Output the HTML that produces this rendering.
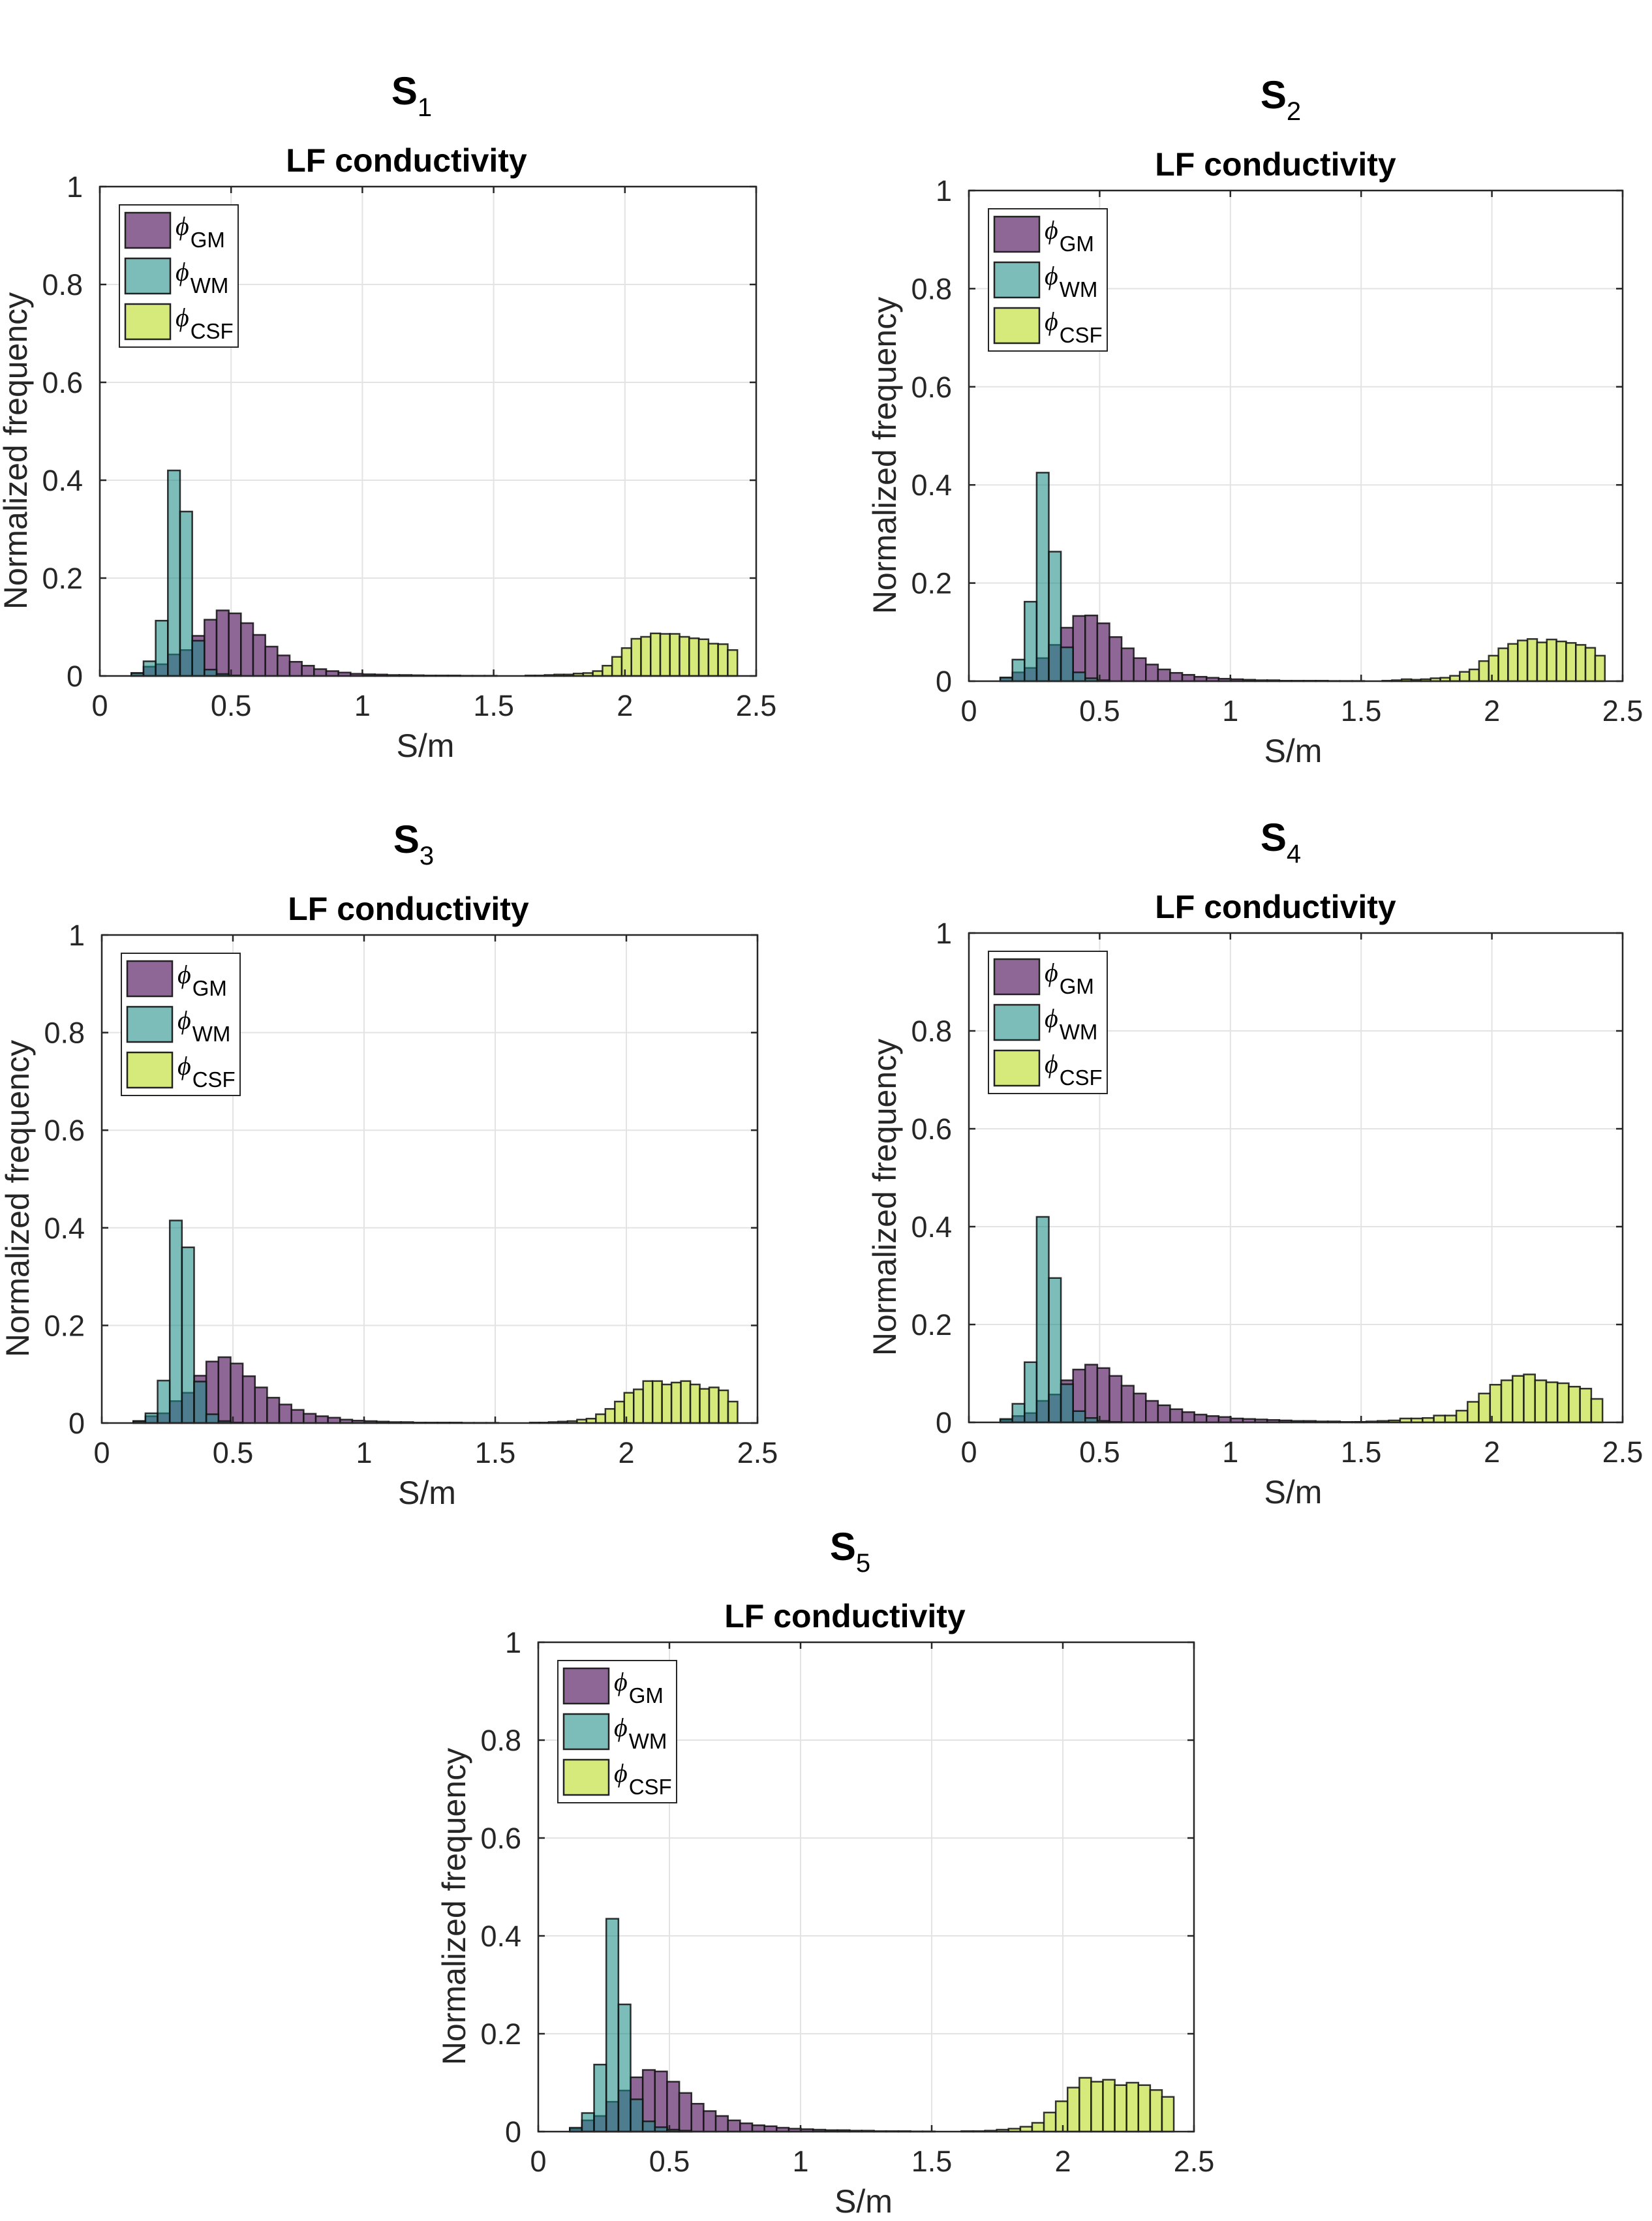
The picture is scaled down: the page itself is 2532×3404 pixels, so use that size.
<!DOCTYPE html>
<html><head><meta charset="utf-8"><style>
html,body{margin:0;padding:0;background:#fff;}
svg{display:block;font-family:"Liberation Sans",Arial,sans-serif;}
</style></head><body>
<svg id="fig" xmlns="http://www.w3.org/2000/svg" width="2532" height="3404" viewBox="0 0 2532 3404"></svg>
<script>
// shared axis data
const xTicks = [0, 0.5, 1, 1.5, 2, 2.5];
const xTickLabels = ['0', '0.5', '1', '1.5', '2', '2.5'];
const yTicks = [0, 0.2, 0.4, 0.6, 0.8, 1];
const yTickLabels = ['0', '0.2', '0.4', '0.6', '0.8', '1'];
const tissueBinStart = 0.12;
const tissueBinWidth = 0.0464;

// S1
const s1WM = [0.006,0.03,0.113,0.42,0.336,0.072,0.013,0.004,0.001];
const s1GM = [0.006,0.019,0.024,0.044,0.053,0.082,0.115,0.134,0.128,0.108,0.084,0.06,0.042,0.029,0.021,0.014,0.01,0.007,0.0045,0.0035,0.003,0.002,0.002,0.0015,0.001,0.001,0.001,0.0005,0.0005,0.0005];
const s1CSF = [0.001,0.001,0.002,0.003,0.003,0.005,0.006,0.01,0.021,0.039,0.057,0.076,0.08,0.087,0.086,0.086,0.08,0.077,0.075,0.066,0.065,0.053];
const s1CSFEdge = [1.621, 0.0367];
// S2
const s2WM = [0.0075,0.044,0.162,0.425,0.264,0.069,0.018,0.006,0.002];
const s2GM = [0.007,0.018,0.027,0.047,0.074,0.109,0.133,0.134,0.118,0.09,0.067,0.047,0.034,0.024,0.017,0.013,0.009,0.007,0.005,0.004,0.003,0.002,0.002,0.001,0.001,0.001,0.001,0.0005,0.0005,0.0005];
const s2CSF = [0.001,0.002,0.004,0.003,0.004,0.006,0.007,0.011,0.019,0.024,0.041,0.052,0.067,0.076,0.083,0.086,0.079,0.085,0.081,0.078,0.074,0.068,0.052];
const s2CSFEdge = [1.581, 0.037];
// S3
const s3WM = [0.004,0.02,0.087,0.415,0.36,0.085,0.018,0.004,0.001];
const s3GM = [0.004,0.014,0.02,0.045,0.062,0.097,0.126,0.135,0.122,0.096,0.073,0.052,0.038,0.027,0.019,0.014,0.011,0.007,0.005,0.004,0.003,0.002,0.002,0.001,0.001,0.001,0.001,0.0005,0.0005,0.0005];
const s3CSF = [0.001,0.001,0.002,0.003,0.004,0.007,0.009,0.018,0.029,0.044,0.062,0.069,0.086,0.086,0.079,0.083,0.086,0.079,0.070,0.073,0.067,0.044];
const s3CSFEdge = [1.632, 0.036];
// S4
const s4WM = [0.007,0.038,0.123,0.42,0.295,0.078,0.023,0.009,0.003,0.001];
const s4GM = [0.005,0.013,0.019,0.044,0.057,0.086,0.108,0.118,0.111,0.095,0.075,0.059,0.044,0.035,0.027,0.021,0.016,0.013,0.011,0.008,0.007,0.006,0.005,0.004,0.003,0.003,0.002,0.002,0.001,0.001];
const s4CSF = [0.001,0.002,0.003,0.004,0.008,0.008,0.009,0.014,0.014,0.024,0.042,0.059,0.077,0.086,0.095,0.098,0.086,0.082,0.080,0.073,0.069,0.048];
const s4CSFEdge = [1.477, 0.043];
// S5
const s5WM = [0.008,0.038,0.137,0.435,0.26,0.066,0.021,0.009,0.004,0.002];
const s5GM = [0.006,0.023,0.032,0.061,0.084,0.111,0.126,0.123,0.102,0.079,0.057,0.042,0.032,0.023,0.017,0.013,0.011,0.008,0.006,0.005,0.004,0.003,0.003,0.002,0.002,0.001,0.001,0.001,0.0005,0.0005];
const s5CSF = [0.001,0.001,0.002,0.004,0.006,0.010,0.018,0.039,0.062,0.090,0.110,0.102,0.106,0.095,0.100,0.095,0.085,0.071];
const s5CSFEdge = [1.613, 0.045];

const subjects = [
  {n:'1', wm:s1WM, gm:s1GM, csf:s1CSF, ce:s1CSFEdge, box:[153,1159,286,1036]},
  {n:'2', wm:s2WM, gm:s2GM, csf:s2CSF, ce:s2CSFEdge, box:[1485,2487,292,1044]},
  {n:'3', wm:s3WM, gm:s3GM, csf:s3CSF, ce:s3CSFEdge, box:[156,1161,1433,2181]},
  {n:'4', wm:s4WM, gm:s4GM, csf:s4CSF, ce:s4CSFEdge, box:[1485,2487,1430,2180]},
  {n:'5', wm:s5WM, gm:s5GM, csf:s5CSF, ce:s5CSFEdge, box:[825,1830,2517,3267]}
];

const NS = 'http://www.w3.org/2000/svg';
const fig = document.getElementById('fig');
function mk(tag, attrs, parent) {
  const e = document.createElementNS(NS, tag);
  for (const k in attrs) e.setAttribute(k, attrs[k]);
  parent.appendChild(e);
  return e;
}

subjects.forEach(s => {
  const [L, R, T, B] = s.box;
  const xs = v => L + v / 2.5 * (R - L);
  const ys = v => B - v * (B - T);
  const g = mk('g', {}, fig);
  
  

  xTicks.forEach(t => {
    const l = mk('line', {x1: xs(t), x2: xs(t), y1: T, y2: B, stroke: '#e3e3e3', 'stroke-width': 2}, g);
    
    
  });
  yTicks.forEach(t => {
    const l = mk('line', {x1: L, x2: R, y1: ys(t), y2: ys(t), stroke: '#e3e3e3', 'stroke-width': 2}, g);
    
    
  });

  function bars(vals, start, w, fill, op, name) {
    vals.forEach((v, i) => {
      const x0 = xs(start + i * w), x1 = xs(start + (i + 1) * w);
      const r = mk('rect', {x: x0, y: ys(v), width: x1 - x0, height: ys(0) - ys(v), fill: fill, 'fill-opacity': op, stroke: '#111', 'stroke-opacity': 0.85, 'stroke-width': 2.5}, g);
      
      
    });
  }
  bars(s.gm, tissueBinStart, tissueBinWidth, '#8f6797', 1, 'gm-bar');
  bars(s.wm, tissueBinStart, tissueBinWidth, 'rgb(29,141,136)', 0.58, 'wm-bar');
  bars(s.csf, s.ce[0], s.ce[1], '#d6ea7c', 1, 'csf-bar');

  const bx = mk('rect', {x: L, y: T, width: R - L, height: B - T, fill: 'none', stroke: '#262626', 'stroke-width': 2.5}, g);
  
  

  xTicks.forEach((t, i) => {
    mk('line', {x1: xs(t), x2: xs(t), y1: B, y2: B - 10, stroke: '#262626', 'stroke-width': 2.5}, g);
    mk('line', {x1: xs(t), x2: xs(t), y1: T, y2: T + 10, stroke: '#262626', 'stroke-width': 2.5}, g);
    const tx = mk('text', {x: xs(t), y: B + 61, 'font-size': 45, fill: '#262626', 'text-anchor': 'middle'}, g);
    tx.textContent = xTickLabels[i];
    
    
  });
  yTicks.forEach((t, i) => {
    mk('line', {x1: L, x2: L + 10, y1: ys(t), y2: ys(t), stroke: '#262626', 'stroke-width': 2.5}, g);
    mk('line', {x1: R, x2: R - 10, y1: ys(t), y2: ys(t), stroke: '#262626', 'stroke-width': 2.5}, g);
    const tx = mk('text', {x: L - 26, y: ys(t) + 16, 'font-size': 45, fill: '#262626', 'text-anchor': 'end'}, g);
    tx.textContent = yTickLabels[i];
    
    
  });

  const xl = mk('text', {x: (L + R) / 2 - 4, y: B + 124, 'font-size': 50, fill: '#262626', 'text-anchor': 'middle'}, g);
  xl.textContent = 'S/m';
  
  
  const cy = (T + B) / 2 + 30;
  const yl = mk('text', {x: L - 112, y: cy, 'font-size': 50, fill: '#262626', 'text-anchor': 'middle', transform: `rotate(-90 ${L - 112} ${cy})`}, g);
  yl.textContent = 'Normalized frequency';
  
  

  const st = mk('text', {x: L + 478, y: T - 126, 'font-size': 60, 'font-weight': 'bold', fill: '#000', 'text-anchor': 'middle'}, g);
  
  
  const t1 = mk('tspan', {}, st); t1.textContent = 'S';
  const t2 = mk('tspan', {'font-size': 40, 'font-weight': 'normal', dy: 18}, st); t2.textContent = s.n;
  const lt = mk('text', {x: L + 470, y: T - 23, 'font-size': 50, 'font-weight': 'bold', fill: '#000', 'text-anchor': 'middle'}, g);
  lt.textContent = 'LF conductivity';
  
  

  const lg = mk('g', {}, g);
  
  
  mk('rect', {x: L + 30, y: T + 28, width: 182, height: 218, fill: '#fff', stroke: '#262626', 'stroke-width': 2}, lg);
  const entries = [['GM', '#8f6797'], ['WM', '#7cbdba'], ['CSF', '#d6ea7c']];
  entries.forEach((en, i) => {
    const oy = T + 40 + i * 70;
    const sw = mk('rect', {x: L + 39, y: oy, width: 69, height: 54, fill: en[1], stroke: '#222', 'stroke-width': 2.5}, lg);
    
    
    const tx = mk('text', {x: L + 116, y: oy + 34, 'font-size': 40, fill: '#000'}, lg);
    
    
    const p = mk('tspan', {'font-family': '"Liberation Serif","DejaVu Serif",serif', 'font-style': 'italic'}, tx);
    p.textContent = 'ϕ';
    const sb = mk('tspan', {'font-size': 33, dy: 19, dx: 2}, tx);
    sb.textContent = en[0];
  });
});
</script>
</body></html>
